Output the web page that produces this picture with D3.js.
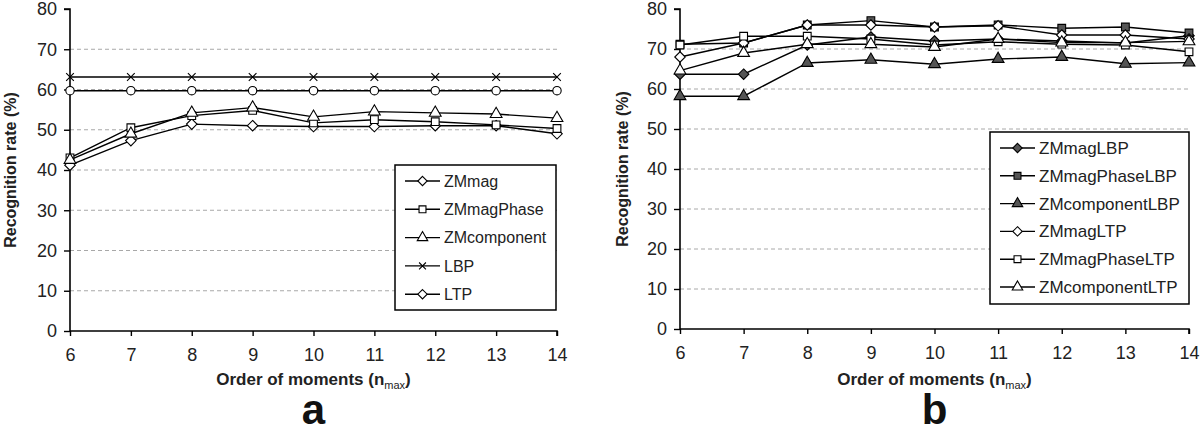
<!DOCTYPE html>
<html><head><meta charset="utf-8">
<script src="https://cdn.jsdelivr.net/npm/d3@7"></script>
<style>
html,body{margin:0;padding:0;background:#fff;}
svg{display:block;font-family:"Liberation Sans",Arial,sans-serif;}
</style></head>
<body>
<svg id="chart" width="1200" height="434"></svg>
<script>
// ---- data ----
const orders = [6, 7, 8, 9, 10, 11, 12, 13, 14];
const yTicks = [0, 10, 20, 30, 40, 50, 60, 70, 80];
const gridTicks = [10, 20, 30, 40, 50, 60, 70];

// panel a
const namesA = ["ZMmag", "ZMmagPhase", "ZMcomponent", "LBP", "LTP"];
const zmMag       = [41.2, 47.3, 51.4, 51.0, 50.8, 50.8, 51.0, 51.0, 49.0];
const zmMagPhase  = [43.0, 50.5, 53.5, 54.8, 51.7, 52.5, 52.0, 51.2, 50.3];
const zmComponent = [42.5, 49.0, 54.2, 55.5, 53.2, 54.5, 54.2, 53.9, 52.9];
const lbp         = [63.1, 63.1, 63.1, 63.1, 63.1, 63.1, 63.1, 63.1, 63.1];
const ltp         = [59.7, 59.7, 59.7, 59.7, 59.7, 59.7, 59.7, 59.7, 59.7];

// panel b
const namesB = ["ZMmagLBP", "ZMmagPhaseLBP", "ZMcomponentLBP", "ZMmagLTP", "ZMmagPhaseLTP", "ZMcomponentLTP"];
const zmMagLBP        = [63.7, 63.7, 71.0, 73.0, 72.0, 72.5, 72.0, 71.5, 73.3];
const zmMagPhaseLBP   = [71.2, 71.5, 76.0, 77.1, 75.5, 76.0, 75.2, 75.5, 74.0];
const zmComponentLBP  = [58.2, 58.2, 66.5, 67.3, 66.2, 67.5, 68.0, 66.3, 66.6];
const zmMagLTP        = [68.0, 71.5, 76.0, 76.0, 75.5, 75.8, 73.5, 73.5, 72.5];
const zmMagPhaseLTP   = [71.0, 73.2, 73.2, 72.5, 71.0, 71.8, 71.2, 71.0, 69.3];
const zmComponentLTP  = [64.6, 69.0, 71.2, 71.2, 70.5, 72.5, 71.6, 71.6, 71.9];

const svg = d3.select("#chart");

const symDefs = {
  diamond: {type: d3.symbolDiamond2, size: 70},
  square: {type: d3.symbolSquare, size: 60},
  triangle: {type: d3.symbolTriangle, size: 60},
  x: {type: d3.symbolX, size: 40},
  circle: {type: d3.symbolCircle, size: 55}
};

function drawPanel(p) {
  const x = d3.scaleLinear().domain([6, 14]).range([p.x0, p.x1]);
  const y = d3.scaleLinear().domain([0, 80]).range([p.y0, p.y1]);
  const g = svg.append("g");

  // grid
  g.selectAll(".grid").data(gridTicks).join("line")
    .attr("x1", p.x0).attr("x2", p.x1)
    .attr("y1", d => y(d)).attr("y2", d => y(d))
    .attr("stroke", "#a8a8a8").attr("stroke-width", 1)
    .attr("stroke-dasharray", "4,3");

  // y axis
  const ya = g.append("g").attr("transform", `translate(${p.x0},0)`)
    .call(d3.axisLeft(y).tickValues(yTicks).tickSize(6).tickPadding(7));
  // x axis
  const xa = g.append("g").attr("transform", `translate(0,${p.y0})`)
    .call(d3.axisBottom(x).tickValues(orders).tickSize(5).tickPadding(12));
  [ya, xa].forEach(a => {
    a.select(".domain").attr("stroke", "#000").attr("stroke-width", 1.6);
    a.selectAll(".tick line").attr("stroke", "#000").attr("stroke-width", 1.4);
    a.selectAll(".tick text").attr("fill", "#222").style("font-size", "18px")
      .style("font-family", "'Liberation Sans',Arial,sans-serif");
  });
  ya.select(".domain").attr("d", `M-6,${p.y1}H0V${p.y0}`);
  xa.select(".domain").attr("d", `M${p.x0},0H${p.x1}V5`);

  // axis titles
  g.append("text")
    .attr("transform", `translate(${p.ytx},${(p.y0 + p.y1) / 2}) rotate(-90)`)
    .attr("text-anchor", "middle").attr("dy", "0.35em")
    .style("font-size", "16px").style("font-weight", "bold").attr("fill", "#222")
    .text("Recognition rate (%)");
  const xt = g.append("text")
    .attr("x", (p.x0 + p.x1) / 2).attr("y", 385)
    .attr("text-anchor", "middle")
    .style("font-size", "17px").style("font-weight", "bold").attr("fill", "#222");
  xt.append("tspan").text("Order of moments (n");
  xt.append("tspan").text("max").style("font-size", "11px").style("font-weight", "normal").attr("dy", 4);
  xt.append("tspan").text(")").attr("dy", -4);

  g.append("text")
    .attr("x", (p.x0 + p.x1) / 2).attr("y", 424)
    .attr("text-anchor", "middle")
    .style("font-size", "42px").style("font-weight", "bold").attr("fill", "#111")
    .text(p.label);

  // series
  const line = d3.line().x((d, i) => x(orders[i])).y(d => y(d));
  p.series.forEach(s => {
    g.append("path").datum(s.values)
      .attr("d", line).attr("fill", "none")
      .attr("stroke", "#000").attr("stroke-width", 1.4);
    const sd = symDefs[s.shape];
    g.selectAll(null).data(s.values).join("path")
      .attr("transform", (d, i) => `translate(${x(orders[i])},${y(d)})`)
      .attr("d", d3.symbol().type(sd.type).size(sd.size))
      .attr("fill", s.shape === "x" ? "none" : s.fill)
      .attr("stroke", "#000").attr("stroke-width", 1.1);
  });

  // legend
  const L = p.legend;
  g.append("rect").attr("x", L.x).attr("y", L.y).attr("width", L.w).attr("height", L.h)
    .attr("fill", "#fff").attr("stroke", "#000").attr("stroke-width", 1.5);
  p.series.forEach((s, i) => {
    const ly = L.y + L.first + i * L.step;
    g.append("line").attr("x1", L.x + 10).attr("x2", L.x + 45)
      .attr("y1", ly).attr("y2", ly).attr("stroke", "#000").attr("stroke-width", 1.4);
    const ls = s.legendShape || s.shape;
    const sd = symDefs[ls];
    g.append("path").attr("transform", `translate(${L.x + 27.5},${ly})`)
      .attr("d", d3.symbol().type(sd.type).size(sd.size * 0.8))
      .attr("fill", ls === "x" ? "none" : s.fill)
      .attr("stroke", "#000").attr("stroke-width", 1.1);
    g.append("text").attr("x", L.x + 49).attr("y", ly).attr("dy", "0.35em")
      .style("font-size", L.fs + "px").attr("fill", "#222").text(s.name);
  });
}

drawPanel({
  x0: 70, x1: 557, y0: 331, y1: 9, ytx: 10, label: "a",
  series: [
    {name: namesA[0], values: zmMag, shape: "diamond", fill: "#fff"},
    {name: namesA[1], values: zmMagPhase, shape: "square", fill: "#fff"},
    {name: namesA[2], values: zmComponent, shape: "triangle", fill: "#fff"},
    {name: namesA[3], values: lbp, shape: "x", fill: "#fff"},
    {name: namesA[4], values: ltp, shape: "circle", legendShape: "diamond", fill: "#fff"}
  ],
  legend: {x: 395, y: 165, w: 161, h: 145, first: 16, step: 28.3, fs: 16}
});

drawPanel({
  x0: 680, x1: 1189, y0: 329, y1: 9, ytx: 622, label: "b",
  series: [
    {name: namesB[0], values: zmMagLBP, shape: "diamond", fill: "#555"},
    {name: namesB[1], values: zmMagPhaseLBP, shape: "square", fill: "#555"},
    {name: namesB[2], values: zmComponentLBP, shape: "triangle", fill: "#555"},
    {name: namesB[3], values: zmMagLTP, shape: "diamond", fill: "#fff"},
    {name: namesB[4], values: zmMagPhaseLTP, shape: "square", fill: "#fff"},
    {name: namesB[5], values: zmComponentLTP, shape: "triangle", fill: "#fff"}
  ],
  legend: {x: 990, y: 132, w: 199, h: 172, first: 16, step: 27.8, fs: 17}
});
</script>
</body></html>
